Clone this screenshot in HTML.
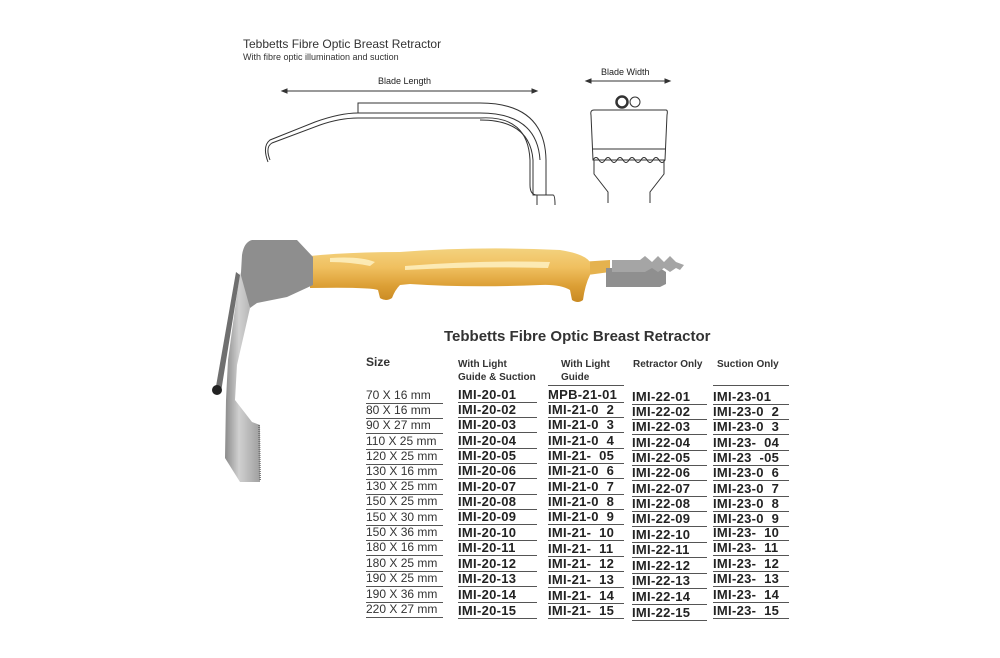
<!DOCTYPE html>
<html><head><meta charset="utf-8"><style>
body{margin:0;background:#fff;width:1000px;height:658px;position:relative;overflow:hidden;font-family:"Liberation Sans",Arial,sans-serif;color:#222}
.a{position:absolute;white-space:nowrap}
.t1{left:243px;top:37px;font-size:12px;color:#333}
.t2{left:243px;top:52px;font-size:9px;color:#333}
.h{font-weight:bold;font-size:10px;color:#333;line-height:13px}
.c{position:absolute;border-bottom:1.5px solid #555;height:15px;line-height:15px;white-space:nowrap}
.s{left:366px;width:77px;font-size:12px;color:#333}
.c2{left:458px;width:79px;font-size:13px;font-weight:bold;letter-spacing:0.3px}
.c3{left:548px;width:76px;font-size:13px;font-weight:bold;letter-spacing:0.3px;white-space:pre}
.c4{left:632px;width:75px;font-size:13px;font-weight:bold;letter-spacing:0.3px}
.c5{left:713px;width:76px;font-size:13px;font-weight:bold;letter-spacing:0.3px;white-space:pre}
</style></head><body>
<div class="a t1">Tebbetts Fibre Optic Breast Retractor</div>
<div class="a t2">With fibre optic illumination and suction</div>
<div class="a" style="left:378px;top:76px;font-size:9px">Blade Length</div>
<div class="a" style="left:601px;top:67px;font-size:9px">Blade Width</div>
<svg width="1000" height="658" style="position:absolute;left:0;top:0">
<defs>
<linearGradient id="g" x1="0" y1="0" x2="0" y2="1"><stop offset="0" stop-color="#f3d27e"/><stop offset="0.35" stop-color="#f0c060"/><stop offset="0.7" stop-color="#dc9f35"/><stop offset="1" stop-color="#c98a22"/></linearGradient>
<linearGradient id="s" x1="0" y1="0" x2="1" y2="0"><stop offset="0" stop-color="#8a8a8a"/><stop offset="0.4" stop-color="#d0d0d0"/><stop offset="1" stop-color="#a0a0a0"/></linearGradient>
</defs>
<g stroke="#333" stroke-width="1" fill="none">
<line x1="282" y1="91" x2="537" y2="91"/><path d="M282 91l5-2v4z M537 91l-5-2v4z" fill="#333"/>
<line x1="586" y1="81" x2="670" y2="81"/><path d="M586 81l5-2v4z M670 81l-5-2v4z" fill="#333"/>
<path d="M358 113V103H480Q545 103 546 160V195H553Q555 195 555 205"/>
<path d="M537 205V195Q530 195 530 185V160Q528 115 480 118H358Q340 118 320 125L272 143Q265 147 270 160"/>
<path d="M546 195H533V160Q530 120 480 120"/>
<path d="M358 113H480Q537 113 540 160"/>
<path d="M358 113Q340 113 315 122L270 140Q262 146 268 162"/>
<circle cx="622" cy="102" r="5.5" stroke-width="2.5"/><circle cx="635" cy="102" r="5"/>
<path d="M594 110H666Q668 110 667 115L665 160H593L591 115Q590 110 594 110z"/>
<line x1="593" y1="149" x2="665" y2="149"/>
<path d="M593 160Q596 155 599 160T605 160T611 160T617 160T623 160T629 160T635 160T641 160T647 160T653 160T659 160T665 160"/>
<path d="M594 160V174L608 192V203 M664 160V174L650 192V203"/>
</g>
<!-- connectors -->
<path d="M580 262L610 260V272L580 276z" fill="#e5b24e"/>
<path d="M606 268H660L666 272V284L660 287H606z" fill="#8f8f8f"/>
<path d="M612 260H640L645 256L652 262L658 256L664 262L670 256L676 262L684 265L680 270L676 268L670 272L664 268L658 272L652 268L645 272H612z" fill="#a5a5a5"/>
<!-- handle -->
<path d="M310 256Q350 252 400 252Q480 246 560 250Q585 254 590 262V275Q585 285 583 300Q578 304 572 300L570 290Q560 284 540 285Q470 288 410 284L400 285Q395 290 392 298Q386 302 380 298L378 290Q370 287 310 288z" fill="url(#g)"/>
<path d="M330 258Q360 256 375 262L370 266Q350 262 330 262z M405 266Q480 260 550 262L548 268Q480 266 405 270z" fill="#fff4c8" opacity="0.8"/>
<!-- blade -->
<path d="M252 240H297L313 257V285L287 297L257 303L250 308L240 290L242 255Q244 242 252 240Z" fill="#8e8e8e"/>
<path d="M240 272L250 308L237 365L235 400L252 422L260 425L260 482L240 482L225 458L226 400L228 360Z" fill="url(#s)"/>
<path d="M236 272L240 275L221 392L215 392Z" fill="#6f6f6f"/>
<circle cx="217" cy="390" r="5" fill="#222"/>
<line x1="259" y1="425" x2="260" y2="480" stroke="#777" stroke-width="2" stroke-dasharray="1 1"/>
</svg>
<div class="a" style="left:444px;top:328px;font-size:15px;font-weight:bold;color:#333">Tebbetts Fibre Optic Breast Retractor</div>
<div class="a" style="left:366px;top:355px;font-size:12px;font-weight:bold;color:#333">Size</div>
<div class="a h" style="left:458px;top:358px">With Light<br>Guide &amp; Suction</div>
<div class="a h" style="left:561px;top:358px">With Light<br>Guide</div>
<div class="a h" style="left:633px;top:358px">Retractor Only</div>
<div class="a h" style="left:717px;top:358px">Suction Only</div>
<div style="position:absolute;left:548px;top:385px;width:76px;border-top:1.5px solid #555"></div>
<div style="position:absolute;left:713px;top:385px;width:76px;border-top:1.5px solid #555"></div>
<div class="c s" style="top:388px">70 X 16 mm</div><div class="c c2" style="top:387px">IMI-20-01</div><div class="c c3" style="top:387px">MPB-21-01</div><div class="c c4" style="top:389px">IMI-22-01</div><div class="c c5" style="top:389px">IMI-23-01</div>
<div class="c s" style="top:403px">80 X 16 mm</div><div class="c c2" style="top:402px">IMI-20-02</div><div class="c c3" style="top:402px">IMI-21-0  2</div><div class="c c4" style="top:404px">IMI-22-02</div><div class="c c5" style="top:404px">IMI-23-0  2</div>
<div class="c s" style="top:418px">90 X 27 mm</div><div class="c c2" style="top:417px">IMI-20-03</div><div class="c c3" style="top:417px">IMI-21-0  3</div><div class="c c4" style="top:419px">IMI-22-03</div><div class="c c5" style="top:419px">IMI-23-0  3</div>
<div class="c s" style="top:434px">110 X 25 mm</div><div class="c c2" style="top:433px">IMI-20-04</div><div class="c c3" style="top:433px">IMI-21-0  4</div><div class="c c4" style="top:435px">IMI-22-04</div><div class="c c5" style="top:435px">IMI-23-  04</div>
<div class="c s" style="top:449px">120 X 25 mm</div><div class="c c2" style="top:448px">IMI-20-05</div><div class="c c3" style="top:448px">IMI-21-  05</div><div class="c c4" style="top:450px">IMI-22-05</div><div class="c c5" style="top:450px">IMI-23  -05</div>
<div class="c s" style="top:464px">130 X 16 mm</div><div class="c c2" style="top:463px">IMI-20-06</div><div class="c c3" style="top:463px">IMI-21-0  6</div><div class="c c4" style="top:465px">IMI-22-06</div><div class="c c5" style="top:465px">IMI-23-0  6</div>
<div class="c s" style="top:479px">130 X 25 mm</div><div class="c c2" style="top:479px">IMI-20-07</div><div class="c c3" style="top:479px">IMI-21-0  7</div><div class="c c4" style="top:481px">IMI-22-07</div><div class="c c5" style="top:481px">IMI-23-0  7</div>
<div class="c s" style="top:494px">150 X 25 mm</div><div class="c c2" style="top:494px">IMI-20-08</div><div class="c c3" style="top:494px">IMI-21-0  8</div><div class="c c4" style="top:496px">IMI-22-08</div><div class="c c5" style="top:496px">IMI-23-0  8</div>
<div class="c s" style="top:510px">150 X 30 mm</div><div class="c c2" style="top:509px">IMI-20-09</div><div class="c c3" style="top:509px">IMI-21-0  9</div><div class="c c4" style="top:511px">IMI-22-09</div><div class="c c5" style="top:511px">IMI-23-0  9</div>
<div class="c s" style="top:525px">150 X 36 mm</div><div class="c c2" style="top:525px">IMI-20-10</div><div class="c c3" style="top:525px">IMI-21-  10</div><div class="c c4" style="top:527px">IMI-22-10</div><div class="c c5" style="top:525px">IMI-23-  10</div>
<div class="c s" style="top:540px">180 X 16 mm</div><div class="c c2" style="top:540px">IMI-20-11</div><div class="c c3" style="top:541px">IMI-21-  11</div><div class="c c4" style="top:542px">IMI-22-11</div><div class="c c5" style="top:540px">IMI-23-  11</div>
<div class="c s" style="top:556px">180 X 25 mm</div><div class="c c2" style="top:556px">IMI-20-12</div><div class="c c3" style="top:556px">IMI-21-  12</div><div class="c c4" style="top:558px">IMI-22-12</div><div class="c c5" style="top:556px">IMI-23-  12</div>
<div class="c s" style="top:571px">190 X 25 mm</div><div class="c c2" style="top:571px">IMI-20-13</div><div class="c c3" style="top:572px">IMI-21-  13</div><div class="c c4" style="top:573px">IMI-22-13</div><div class="c c5" style="top:571px">IMI-23-  13</div>
<div class="c s" style="top:587px">190 X 36 mm</div><div class="c c2" style="top:587px">IMI-20-14</div><div class="c c3" style="top:588px">IMI-21-  14</div><div class="c c4" style="top:589px">IMI-22-14</div><div class="c c5" style="top:587px">IMI-23-  14</div>
<div class="c s" style="top:602px">220 X 27 mm</div><div class="c c2" style="top:603px">IMI-20-15</div><div class="c c3" style="top:603px">IMI-21-  15</div><div class="c c4" style="top:605px">IMI-22-15</div><div class="c c5" style="top:603px">IMI-23-  15</div>
</body></html>
